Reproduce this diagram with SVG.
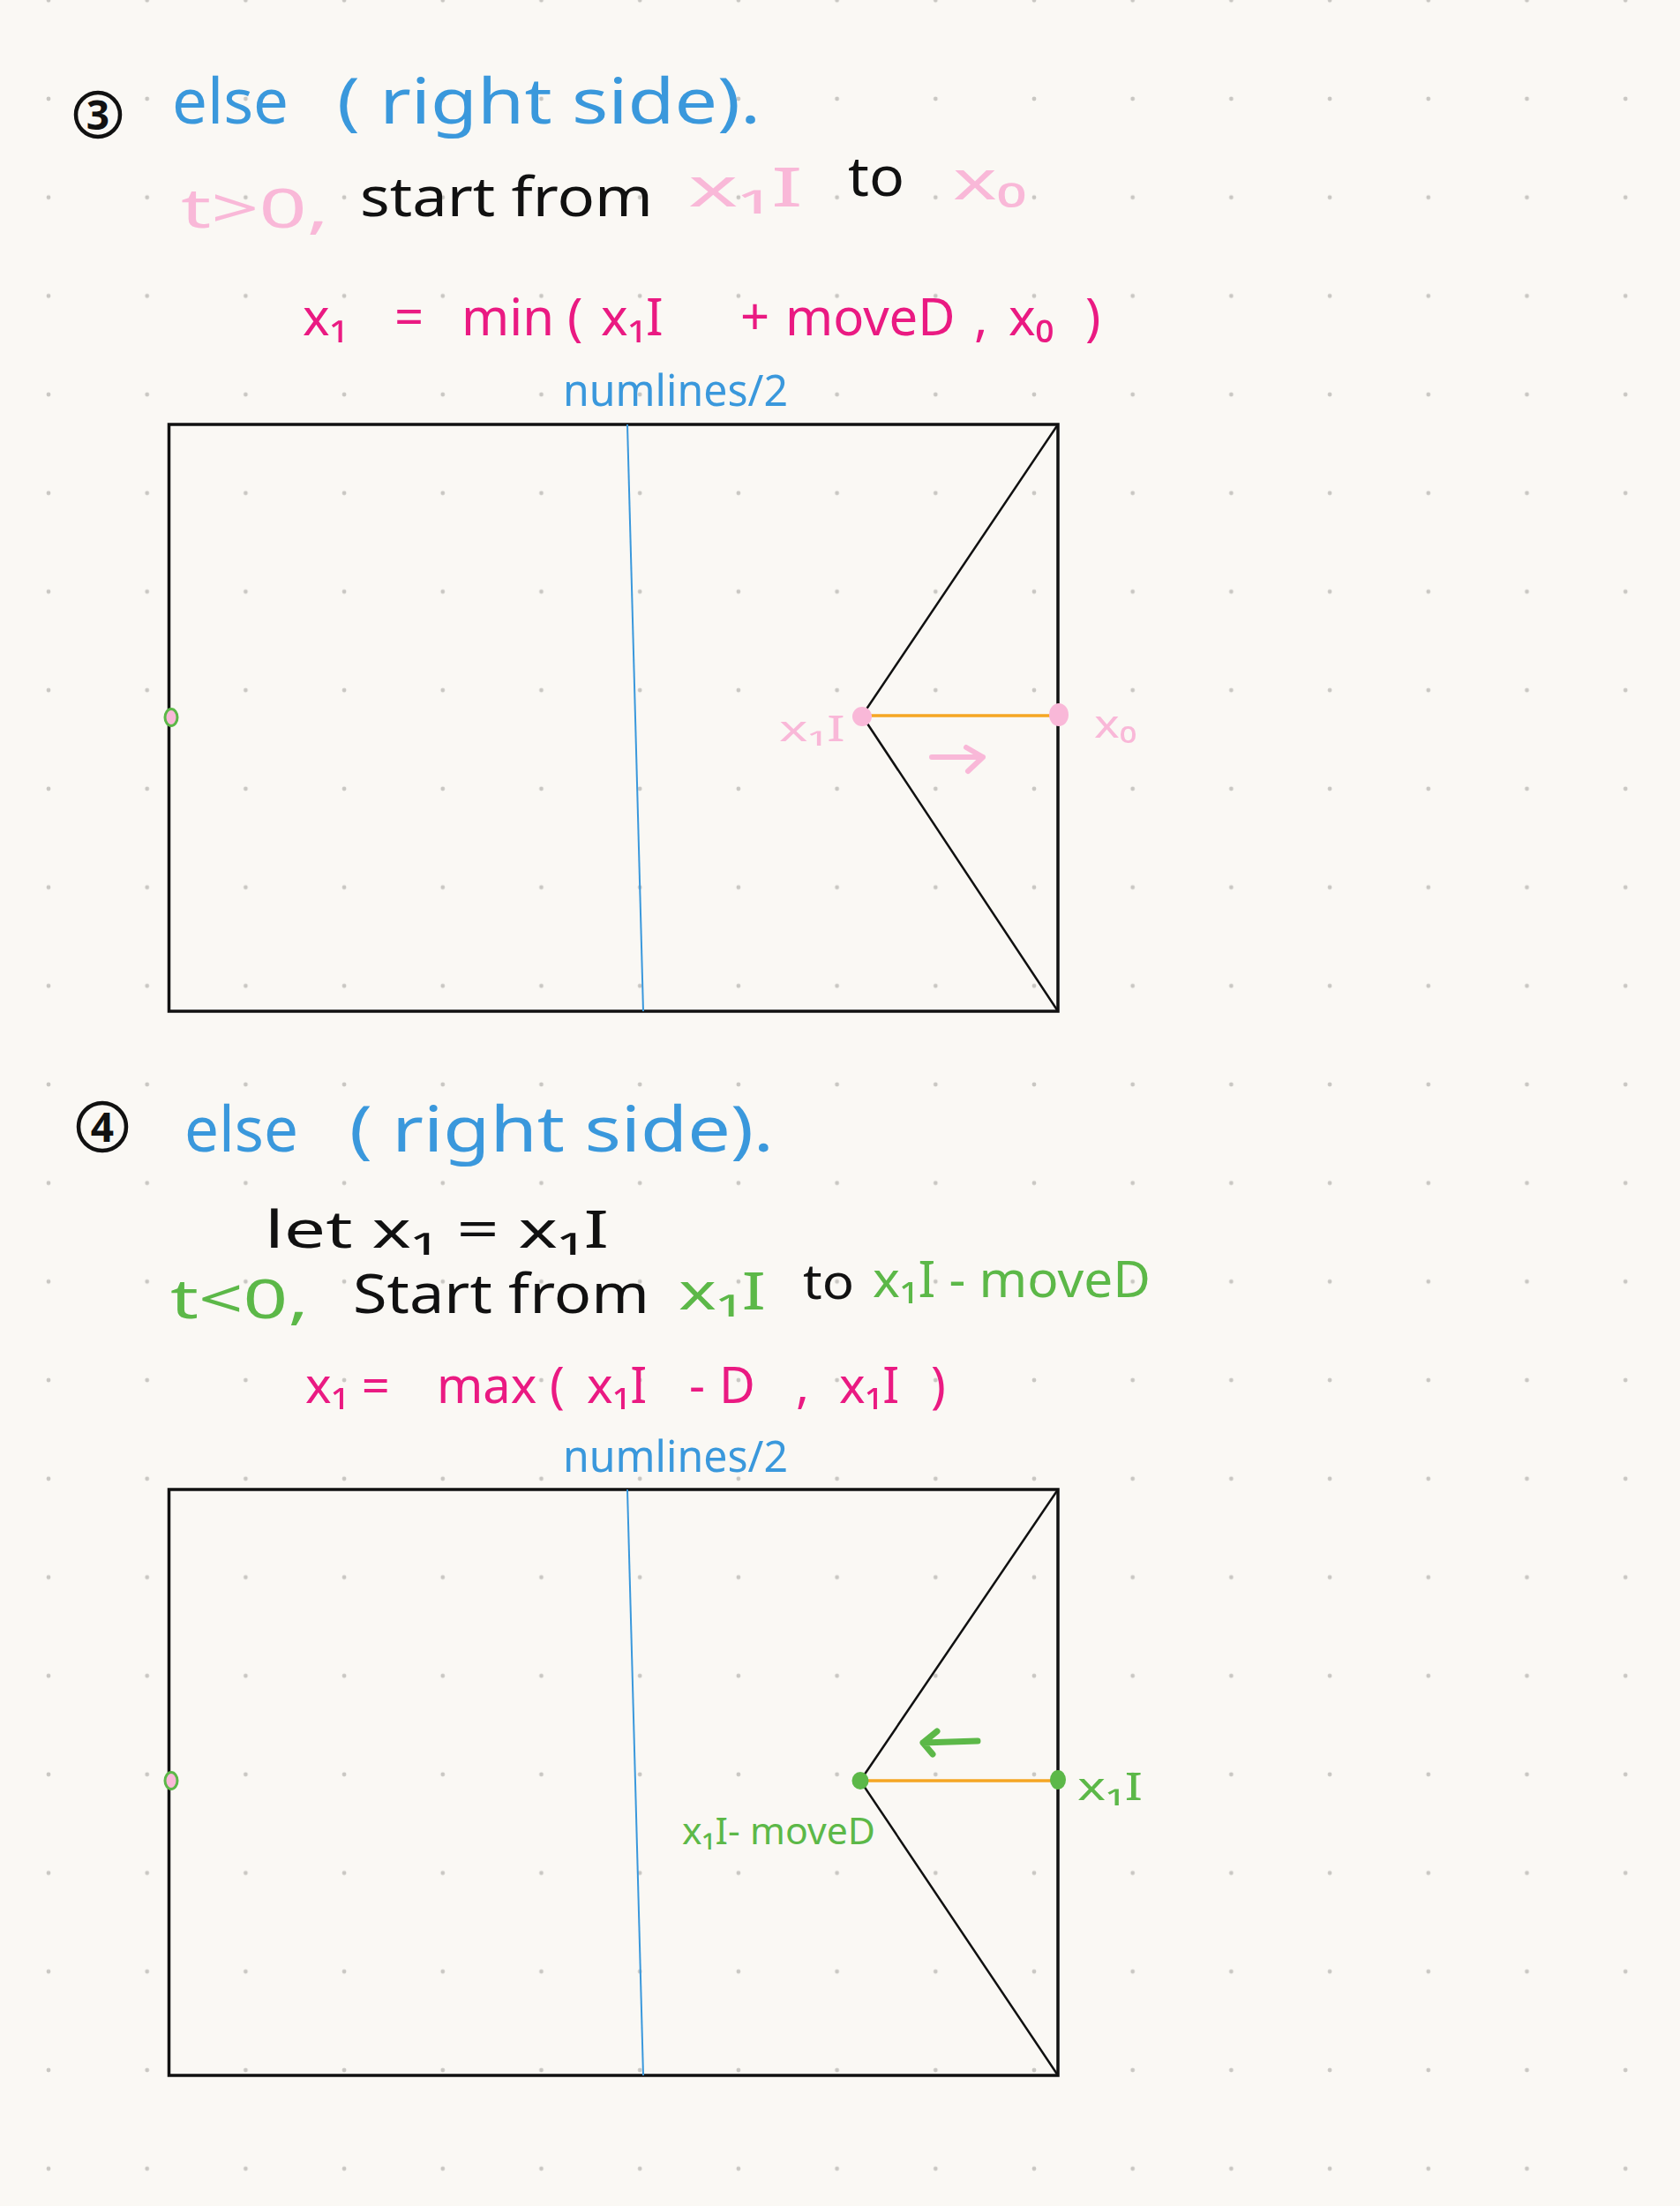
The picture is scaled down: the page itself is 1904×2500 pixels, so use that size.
<svg xmlns="http://www.w3.org/2000/svg" width="1904" height="2500" viewBox="0 0 1904 2500">
<defs>
<pattern id="dots" patternUnits="userSpaceOnUse" x="-0.85" y="56.15" width="111.7" height="111.7">
<circle cx="55.85" cy="55.85" r="2.4" fill="#c9c7c3"/>
</pattern>
<style>
text{font-family:"Noto Sans","Liberation Sans",sans-serif;}
.blue{fill:#3a98dc;}
.lpink{fill:#f9b8d8;}
.mag{fill:#ea1a82;}
.green{fill:#5cb848;}
.blk{fill:#111;}
.box{fill:none;stroke:#111;stroke-width:3.5;}
.tri{fill:none;stroke:#111;stroke-width:2.5;stroke-linejoin:round;}
.mid{stroke:#3a98dc;stroke-width:2;}
.seg{stroke:#f5a623;stroke-width:3.5;}
.num{fill:none;stroke:#111;stroke-width:4.5;}
.arrP{fill:none;stroke:#f9b8d8;stroke-width:6;stroke-linecap:round;stroke-linejoin:round;}
.arrG{fill:none;stroke:#5cb848;stroke-width:7;stroke-linecap:round;stroke-linejoin:round;}
.edge{fill:#f9b8d8;stroke:#5cb848;stroke-width:3;}
</style>
</defs>
<rect width="1904" height="2500" fill="#faf8f4"/>
<rect width="1904" height="2500" fill="url(#dots)"/>

<!-- Section 3 header -->
<g id="sec3-header">
<circle class="num" cx="111" cy="130" r="25"/>
<text class="blk" x="111" y="147" font-size="46" font-weight="bold" text-anchor="middle">3</text>
<text class="blue" x="195" y="140" font-size="72" textLength="132" lengthAdjust="spacingAndGlyphs">else</text>
<text class="blue" x="382" y="140" font-size="72" textLength="480" lengthAdjust="spacingAndGlyphs">( right side).</text>
</g>
<g id="sec3-cond">
<text class="lpink" x="205" y="258" font-size="62" textLength="168" lengthAdjust="spacingAndGlyphs">t&gt;0,</text>
<text class="blk" x="408" y="245" font-size="62" textLength="332" lengthAdjust="spacingAndGlyphs">start from</text>
<text class="lpink" x="780" y="234" font-size="62" textLength="130" lengthAdjust="spacingAndGlyphs">x₁I</text>
<text class="blk" x="961" y="222" font-size="62" textLength="64" lengthAdjust="spacingAndGlyphs">to</text>
<text class="lpink" x="1080" y="226" font-size="62" textLength="83" lengthAdjust="spacingAndGlyphs">x₀</text>
</g>
<g id="sec3-formula">
<text class="mag" y="380" font-size="58"><tspan x="343">x₁ </tspan><tspan x="447">= </tspan><tspan x="523">min (</tspan><tspan x="681">x₁I </tspan><tspan x="839">+ </tspan><tspan x="890">moveD </tspan><tspan x="1104">, </tspan><tspan x="1143">x₀</tspan><tspan x="1230">)</tspan></text>
</g>
<g id="sec3-midlabel">
<text class="blue" x="638" y="460" font-size="50" textLength="255" lengthAdjust="spacingAndGlyphs">numlines/2</text>
</g>

<!-- Diagram 1 -->
<g id="diagram1">
<rect class="box" x="191.5" y="481" width="1007.5" height="665"/>
<line class="mid" x1="711" y1="481" x2="729" y2="1146"/>
<polyline class="tri" points="1199,481 977,811 1199,1146"/>
<line class="seg" x1="977" y1="811" x2="1200" y2="811"/>
<ellipse class="edge" cx="194" cy="813" rx="7" ry="9.5"/>
<ellipse cx="977" cy="812" rx="11" ry="11" fill="#f9b8d8"/>
<ellipse cx="1200" cy="810" rx="11" ry="13" fill="#f9b8d8"/>
<text class="lpink" x="883" y="840" font-size="40" textLength="75" lengthAdjust="spacingAndGlyphs">x₁I</text>
<text class="lpink" x="1240" y="836" font-size="44" textLength="48" lengthAdjust="spacingAndGlyphs">x₀</text>
<path class="arrP" d="M1056,858 L1114,858 M1095,847 L1114,858 L1097,874"/>
</g>

<!-- Section 4 header -->
<g id="sec4-header">
<circle class="num" cx="116" cy="1277" r="27"/>
<text class="blk" x="116" y="1294" font-size="46" font-weight="bold" text-anchor="middle">4</text>
<text class="blue" x="209" y="1305" font-size="72" textLength="129" lengthAdjust="spacingAndGlyphs">else</text>
<text class="blue" x="396" y="1305" font-size="72" textLength="481" lengthAdjust="spacingAndGlyphs">( right side).</text>
</g>
<g id="sec4-let">
<text class="blk" x="300" y="1414" font-size="58" textLength="390" lengthAdjust="spacingAndGlyphs">let x₁ = x₁I</text>
</g>
<g id="sec4-cond">
<text class="green" x="193" y="1494" font-size="62" textLength="157" lengthAdjust="spacingAndGlyphs">t&lt;0,</text>
<text class="blk" x="400" y="1488" font-size="62" textLength="336" lengthAdjust="spacingAndGlyphs">Start from</text>
<text class="green" x="769" y="1484" font-size="58" textLength="99" lengthAdjust="spacingAndGlyphs">x₁I</text>
<text class="blk" x="910" y="1472" font-size="54" textLength="58" lengthAdjust="spacingAndGlyphs">to</text>
<text class="green" x="989" y="1470" font-size="56" textLength="315" lengthAdjust="spacingAndGlyphs">x₁I - moveD</text>
</g>
<g id="sec4-formula">
<text class="mag" y="1590" font-size="56"><tspan x="346">x₁ = </tspan><tspan x="495">max (</tspan><tspan x="665">x₁I </tspan><tspan x="781">- </tspan><tspan x="815">D </tspan><tspan x="902">, </tspan><tspan x="951">x₁I</tspan><tspan x="1055">)</tspan></text>
</g>
<g id="sec4-midlabel">
<text class="blue" x="638" y="1668" font-size="50" textLength="255" lengthAdjust="spacingAndGlyphs">numlines/2</text>
</g>

<!-- Diagram 2 -->
<g id="diagram2">
<rect class="box" x="191.5" y="1688" width="1007.5" height="664"/>
<line class="mid" x1="711" y1="1688" x2="729" y2="2352"/>
<polyline class="tri" points="1199,1688 975,2018 1199,2352"/>
<line class="seg" x1="975" y1="2018" x2="1199" y2="2018"/>
<ellipse class="edge" cx="194" cy="2018" rx="7" ry="9.5"/>
<ellipse cx="975" cy="2018" rx="9.5" ry="10" fill="#5cb848"/>
<ellipse cx="1199" cy="2017" rx="9" ry="11" fill="#5cb848"/>
<text class="green" x="1221" y="2040" font-size="44" textLength="74" lengthAdjust="spacingAndGlyphs">x₁I</text>
<text class="green" x="773" y="2090" font-size="42" textLength="219" lengthAdjust="spacingAndGlyphs">x₁I- moveD</text>
<path class="arrG" d="M1108,1973 L1046,1975 M1062,1962 L1046,1975 L1057,1988"/>
</g>
</svg>
